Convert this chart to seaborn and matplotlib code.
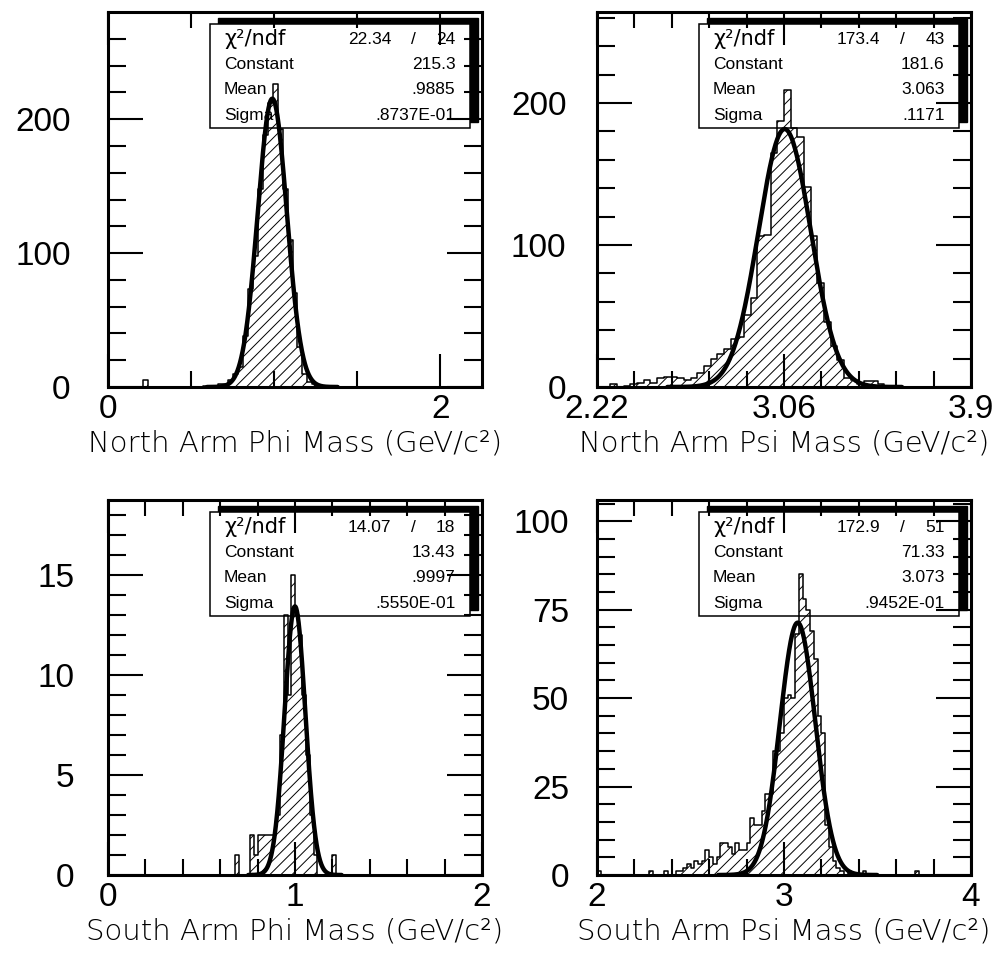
import numpy as np
import pandas as pd
import matplotlib
matplotlib.use("Agg")
import matplotlib.pyplot as plt
import seaborn as sns
from matplotlib.patches import Rectangle
from matplotlib.ticker import FixedLocator, FixedFormatter

# ---------------- data ----------------
# North Arm Phi: 75 bins of 0.03 from 0.0 to 2.25
nphi_lo, nphi_w = 0.0, 0.03
nphi_counts = [0, 0, 0, 0, 0, 0, 0, 5, 0, 0,
               0, 0, 0, 0, 0, 0, 0, 0, 0, 1,
               1, 1, 2, 2, 5, 10, 15, 38, 73, 98,
               148, 188, 212, 226, 193, 148, 110, 70, 30, 10,
               4, 2, 1, 0, 0, 0, 0, 0, 0, 0,
               0, 0, 0, 0, 0, 0, 0, 0, 0, 0,
               0, 0, 0, 0, 0, 0, 0, 0, 0, 0,
               0, 0, 0, 0, 0]
nphi_fit = dict(chi2="22.34", ndf="24", const=215.3, mean=0.9885, sigma=0.08737,
                const_s="215.3", mean_s=".9885", sigma_s=".8737E-01")

# North Arm Psi: 56 bins of 0.03 from 2.22 to 3.90
npsi_lo, npsi_w = 2.22, 0.03
npsi_counts = [0, 0, 2, 0, 1, 2, 3, 5, 3, 6,
               7, 7, 6, 5, 6, 10, 15, 20, 23, 27,
               34, 35, 51, 63, 106, 107, 165, 187, 209, 182,
               176, 141, 106, 73, 46, 29, 19, 6, 5, 2,
               4, 4, 2, 0, 0, 0, 0, 0, 0, 0,
               0, 0, 0, 0, 0, 0]
npsi_fit = dict(chi2="173.4", ndf="43", const=181.6, mean=3.063, sigma=0.1171,
                const_s="181.6", mean_s="3.063", sigma_s=".1171")

# South Arm Phi: 100 bins of 0.02 from 0.0 to 2.0
sphi_lo, sphi_w = 0.0, 0.02
sphi_counts = [0] * 34 + [1, 0, 0, 0, 2, 1, 2, 2, 2, 2,
                          2, 3, 7, 13, 9, 15, 13, 12, 9, 6,
                          3, 1, 0, 0, 0, 0, 1] + [0] * 39
sphi_fit = dict(chi2="14.07", ndf="18", const=13.43, mean=0.9997, sigma=0.0555,
                const_s="13.43", mean_s=".9997", sigma_s=".5550E-01")

# South Arm Psi: 100 bins of 0.02 from 2.0 to 4.0
spsi_lo, spsi_w = 2.0, 0.02
spsi_counts = [1, 0, 0, 0, 0, 0, 0, 0, 0, 0,
               0, 0, 0, 0, 1, 0, 0, 0, 1, 0,
               0, 1, 1, 2, 3, 2, 4, 3, 4, 7,
               5, 3, 5, 9, 9, 8, 6, 9, 7, 7,
               9, 16, 14, 14, 18, 23, 23, 35, 35, 40,
               50, 51, 50, 68, 85, 78, 75, 69, 61, 45,
               40, 14, 8, 4, 2, 1, 0, 1, 0, 0,
               0, 1, 0, 0, 0, 0, 0, 0, 0, 0,
               0, 0, 0, 0, 0, 1, 0, 0, 0, 0,
               0, 0, 0, 0, 0, 0, 0, 0, 0, 0]
spsi_fit = dict(chi2="172.9", ndf="51", const=71.33, mean=3.073, sigma=0.09452,
                const_s="71.33", mean_s="3.073", sigma_s=".9452E-01")

titles = ["North Arm Phi Mass (GeV/c²)", "North Arm Psi Mass (GeV/c²)",
          "South Arm Phi Mass (GeV/c²)", "South Arm Psi Mass (GeV/c²)"]

# axis ranges / ticks
xlims = [(0.0, 2.25), (2.22, 3.90), (0.0, 2.0), (2.0, 4.0)]
ylims = [(0, 280), (0, 264), (0, 18.75), (0, 106)]
x_major = [[0, 2], [2.22, 3.06, 3.90], [0, 1, 2], [2, 3, 4]]
x_major_lab = [["0", "2"], ["2.22", "3.06", "3.9"], ["0", "1", "2"], ["2", "3", "4"]]
x_minor = [[0.5, 1.0, 1.5],
           [2.22 + 0.168 * i for i in range(1, 10) if i != 5],
           [0.2 * i for i in range(1, 10) if i != 5],
           [2 + 0.2 * i for i in range(1, 10) if i != 5]]
y_major = [[0, 100, 200], [0, 100, 200], [0, 5, 10, 15], [0, 25, 50, 75, 100]]
y_minor = [[20, 40, 60, 80, 120, 140, 160, 180, 220, 240, 260],
           [20, 40, 60, 80, 120, 140, 160, 180, 220, 240, 260],
           [i for i in range(1, 19) if i % 5 != 0],
           [i for i in range(5, 106, 5) if i % 25 != 0]]

# ---------------- style ----------------
sns.set_style("white")
plt.rcParams["font.family"] = ["Liberation Sans", "DejaVu Sans"]
plt.rcParams["hatch.linewidth"] = 0.7
plt.rcParams["hatch.color"] = "black"
plt.rcParams["text.color"] = "black"
plt.rcParams["axes.labelcolor"] = "black"
plt.rcParams["xtick.color"] = "black"
plt.rcParams["ytick.color"] = "black"

fig = plt.figure(figsize=(9.98, 9.56), dpi=100)
W, H = 998.0, 956.0
boxes = [(108, 12), (597, 12), (108, 500), (597, 500)]
AW, AH = 374.0, 375.0

panels = [(nphi_lo, nphi_w, nphi_counts, nphi_fit),
          (npsi_lo, npsi_w, npsi_counts, npsi_fit),
          (sphi_lo, sphi_w, sphi_counts, sphi_fit),
          (spsi_lo, spsi_w, spsi_counts, spsi_fit)]
ypads = [27, 22, 24, 20]

for i, (lo, w, counts, fit) in enumerate(panels):
    px, py = boxes[i]
    ax = fig.add_axes([px / W, 1 - (py + AH) / H, AW / W, AH / H])
    n = len(counts)
    edges = [lo + w * k for k in range(n + 1)]
    centers = [lo + w * (k + 0.5) for k in range(n)]
    entries = pd.DataFrame({"x": np.repeat(centers, counts)})
    sns.histplot(data=entries, x="x", bins=edges, element="step", fill=True,
                 color="black", facecolor="none", edgecolor="black", linewidth=1.1,
                 hatch="///", ax=ax, zorder=2)
    # fitted gaussian
    xs = np.linspace(fit["mean"] - 4.5 * fit["sigma"], fit["mean"] + 4.5 * fit["sigma"], 400)
    ys = fit["const"] * np.exp(-0.5 * ((xs - fit["mean"]) / fit["sigma"]) ** 2)
    sns.lineplot(x=xs, y=ys, ax=ax, color="black", linewidth=3.2, zorder=4)

    ax.set_xlim(*xlims[i])
    ax.set_ylim(*ylims[i])
    ax.set_ylabel("")
    ax.set_xlabel(titles[i], family=["DejaVu Sans"], fontweight="light", fontsize=21,
                  labelpad=3, color="black")

    ax.xaxis.set_major_locator(FixedLocator(x_major[i]))
    ax.xaxis.set_major_formatter(FixedFormatter(x_major_lab[i]))
    ax.xaxis.set_minor_locator(FixedLocator(x_minor[i]))
    ax.yaxis.set_major_locator(FixedLocator(y_major[i]))
    ax.yaxis.set_minor_locator(FixedLocator(y_minor[i]))
    ax.tick_params(axis="x", which="major", direction="in", length=24, width=1.5,
                   top=True, bottom=True, labelsize=24, pad=5, colors="black")
    ax.tick_params(axis="x", which="minor", direction="in", length=11.5, width=1.5,
                   top=True, bottom=True, colors="black")
    ax.tick_params(axis="y", which="major", direction="in", length=25, width=1.5,
                   left=True, right=True, labelsize=24, pad=ypads[i], colors="black")
    ax.tick_params(axis="y", which="minor", direction="in", length=13, width=1.5,
                   left=True, right=True, colors="black")
    for s in ax.spines.values():
        s.set_linewidth(2.2)
        s.set_color("black")
    ax.set_axisbelow(False)

    # stats box with shadow
    bx0, bx1, by0, by1 = 0.273, 0.968, 0.691, 0.968
    ax.add_patch(Rectangle((bx0 + 0.021, by0 + 0.016), bx1 - bx0, by1 - by0,
                           transform=ax.transAxes, facecolor="black", edgecolor="black",
                           zorder=1))
    ax.add_patch(Rectangle((bx0, by0), bx1 - bx0, by1 - by0, transform=ax.transAxes,
                           facecolor="white", edgecolor="black", linewidth=1.1, zorder=1.1))
    rows = [0.928, 0.861, 0.793, 0.724]
    ax.text(0.31, rows[0], "χ²/ndf", transform=ax.transAxes, ha="left", va="center",
            family=["DejaVu Sans"], fontsize=15, zorder=1.5, color="black")
    ax.text(0.758, rows[0], fit["chi2"], transform=ax.transAxes, ha="right", va="center",
            fontsize=12.5, zorder=1.5, color="black")
    ax.text(0.817, rows[0], "/", transform=ax.transAxes, ha="center", va="center",
            fontsize=12.5, zorder=1.5, color="black")
    ax.text(0.929, rows[0], fit["ndf"], transform=ax.transAxes, ha="right", va="center",
            fontsize=12.5, zorder=1.5, color="black")
    for r, lab, val in zip(rows[1:], ["Constant", "Mean", "Sigma"],
                           [fit["const_s"], fit["mean_s"], fit["sigma_s"]]):
        ax.text(0.31, r, lab, transform=ax.transAxes, ha="left", va="center",
                fontsize=12.5, zorder=1.5, color="black")
        ax.text(0.929, r, val, transform=ax.transAxes, ha="right", va="center",
                fontsize=12.5, zorder=1.5, color="black")

fig.savefig("out.png", dpi=100, facecolor="white")
